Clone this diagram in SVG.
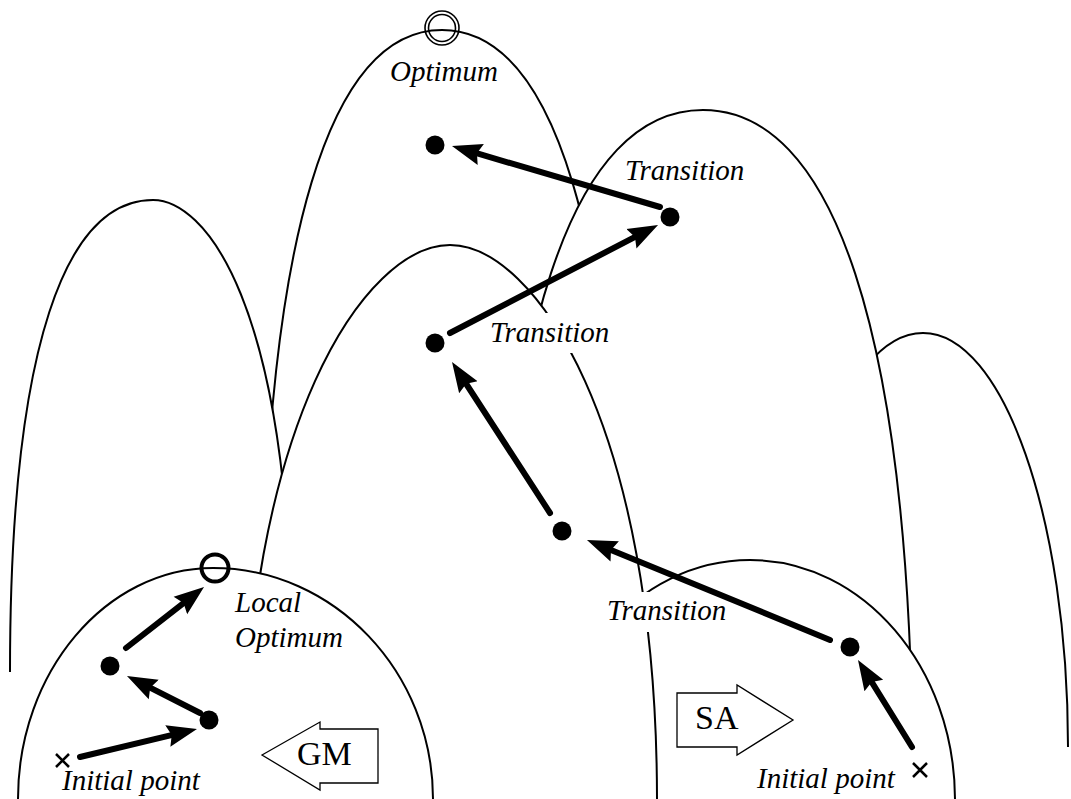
<svg xmlns="http://www.w3.org/2000/svg" width="1071" height="799" viewBox="0 0 1071 799">
<style>
.hill{fill:#fff;stroke:#000;stroke-width:2;}
.lbl{font-family:"Liberation Serif","Times New Roman",serif;font-style:italic;font-size:29px;fill:#000;}
.box{font-family:"Liberation Serif","Times New Roman",serif;font-size:34px;fill:#000;}
.bg{fill:#fff;stroke:none;}
.dot{fill:#000;}
.arr{stroke:#000;stroke-width:6;fill:none;stroke-linecap:round;marker-end:url(#ah);}
.x{stroke:#000;stroke-width:2.5;fill:none;}
.blk{fill:#fff;stroke:#000;stroke-width:1.3;}
</style>
<defs>
<marker id="ah" markerUnits="userSpaceOnUse" markerWidth="40" markerHeight="30" viewBox="0 -15 40 30" refX="8" refY="0" orient="auto">
<path d="M0,-11 L30,0 L0,11 L4,0 Z" fill="#000"/>
</marker>
</defs>
<rect width="1071" height="799" fill="#fff"/>
<g id="hills">
<path id="hill-top" class="hill" d="M262,672 C262,223 334,30 442,30 C550,30 622,223 622,672"/>
<path id="hill-far-right" class="hill" d="M778,747 C778,518 843,333 923,333 C1003,333 1068,518 1068,747"/>
<path id="hill-right" class="hill" d="M493,800 C493,317 577,110 703,110 C829,110 913,317 913,800"/>
<path id="hill-left" class="hill" d="M10,672 C10,342 67,200 153,200 C202,200 292,294 292,672"/>
<path id="hill-sa" class="hill" d="M545,800 C545,667 637,560 750,560 C863,560 955,667 955,800"/>
<path id="hill-mid" class="hill" d="M243,800 C243,423 366,245 450,245 C534,245 657,423 657,800"/>
<path id="hill-local" class="hill" d="M18,799 C18,672 106,568 213,568 C334,568 433,672 433,799"/>
</g>
<g id="labels">
<text id="lbl-optimum" class="lbl" x="390" y="81">Optimum</text>
<text id="lbl-tr1" class="lbl" x="625" y="180">Transition</text>
<g id="lbl-tr2"><rect class="bg" x="487" y="313" width="126" height="40"/><text class="lbl" x="490" y="342">Transition</text></g>
<g id="lbl-tr3"><rect class="bg" x="604" y="592" width="127" height="40"/><text class="lbl" x="607" y="620">Transition</text></g>
<text id="lbl-local" class="lbl" x="235" y="612">Local</text>
<text id="lbl-local2" class="lbl" x="235" y="647">Optimum</text>
<text id="lbl-init-l" class="lbl" x="62" y="790">Initial point</text>
<text id="lbl-init-r" class="lbl" x="757" y="788">Initial point</text>
</g>
<g id="optimum"><circle cx="442" cy="28" r="17" fill="none" stroke="#000" stroke-width="1.6"/><circle cx="442" cy="28" r="13.5" fill="none" stroke="#000" stroke-width="1.6"/></g>
<g id="local-optimum"><circle cx="215" cy="568" r="13.5" fill="none" stroke="#000" stroke-width="4"/></g>
<g id="points">
<path id="init-l" class="x" d="M56,754 L69,767 M69,754 L56,767"/>
<path id="init-r" class="x" d="M913,763 L927,777 M927,763 L913,777"/>
<circle id="g1" class="dot" cx="209" cy="720" r="9.5"/>
<circle id="g2" class="dot" cx="110" cy="666" r="9.5"/>
<circle id="s1" class="dot" cx="850" cy="647" r="9.5"/>
<circle id="s2" class="dot" cx="562" cy="531" r="9.5"/>
<circle id="s3" class="dot" cx="435" cy="343" r="9.5"/>
<circle id="s4" class="dot" cx="670" cy="217" r="9.5"/>
<circle id="s5" class="dot" cx="435" cy="145" r="9.5"/>
</g>
<g id="connectors">
<line class="arr" x1="80" y1="757" x2="175.6" y2="734.1"/>
<line class="arr" x1="200" y1="713" x2="146.6" y2="685.9"/>
<line class="arr" x1="126" y1="648" x2="186.7" y2="600.6"/>
<line class="arr" x1="912" y1="747" x2="869.6" y2="678.7"/>
<line class="arr" x1="830" y1="640" x2="607.3" y2="548.4"/>
<line class="arr" x1="550" y1="513" x2="464" y2="380.5"/>
<line class="arr" x1="450" y1="333" x2="638.5" y2="235.1"/>
<line class="arr" x1="660" y1="207" x2="473.1" y2="152.2"/>
</g>
<g id="gm">
<polygon class="blk" points="262,755 320,722 320,729 378,729 378,783 320,783 320,790"/>
<text class="box" x="297" y="765">GM</text>
</g>
<g id="sa">
<polygon class="blk" points="677,693 737,693 737,685 793,720 737,755 737,747 677,747"/>
<text class="box" x="695" y="729">SA</text>
</g>
</svg>
